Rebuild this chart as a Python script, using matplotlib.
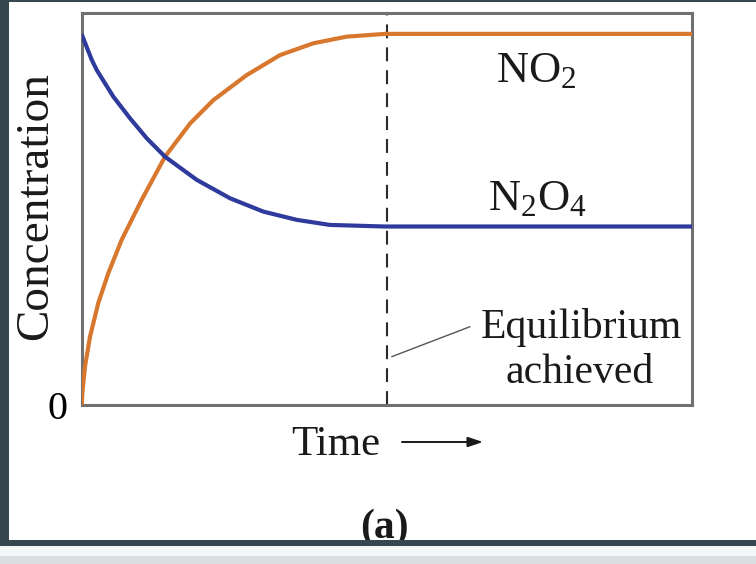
import matplotlib
matplotlib.use("Agg")
import matplotlib.pyplot as plt
from matplotlib.patches import Rectangle

plt.rcParams['font.family'] = ['Liberation Serif', 'DejaVu Serif']
plt.rcParams['mathtext.default'] = 'regular'
plt.rcParams['lines.scale_dashes'] = False

# curves (time in arbitrary units 0..10, concentration 0..1)
time_no2 = [0.0, 0.01, 0.054, 0.136, 0.272, 0.436, 0.655, 0.983, 1.365, 1.778,
            2.156, 2.704, 3.250, 3.795, 4.342, 4.97, 10.0]
conc_no2 = [0.0, 0.030, 0.098, 0.174, 0.260, 0.336, 0.421, 0.523, 0.633, 0.718,
            0.777, 0.841, 0.892, 0.922, 0.939, 0.946, 0.946]

time_n2o4 = [0.0, 0.164, 0.246, 0.518, 0.791, 1.065, 1.365, 1.884, 2.430, 2.976,
             3.523, 4.069, 4.97, 10.0]
conc_n2o4 = [0.945, 0.880, 0.854, 0.786, 0.731, 0.680, 0.633, 0.574, 0.527, 0.493,
             0.472, 0.459, 0.455, 0.455]

t_equilibrium = 5.0

W, H = 756, 564
ORANGE = '#d8782f'
BLUE = '#2e3a9c'
DARK = '#37474f'


def fx(x):
    return x / W


def fy(y):
    return 1 - y / H


fig = plt.figure(figsize=(W / 100, H / 100), dpi=100)
ax = fig.add_axes([fx(81.7), fy(405), (692 - 81.7) / W, (405 - 12.7) / H])

ax.plot(time_no2, conc_no2, color=ORANGE, lw=3.0, solid_capstyle='butt',
        solid_joinstyle='round', zorder=3)
ax.plot(time_n2o4, conc_n2o4, color=BLUE, lw=3.0, solid_capstyle='butt',
        solid_joinstyle='round', zorder=3)
ax.axvline(t_equilibrium, color='#2a2a2a', lw=1.5, dashes=[10, 6.5], zorder=2)

ax.set_xlim(0, 10)
ax.set_ylim(0, 1)
ax.set_xticks([])
ax.set_yticks([0])
ax.set_yticklabels(['0'], fontsize=29)
ax.tick_params(axis='y', length=0, pad=10)
for s in ax.spines.values():
    s.set_color('#707070')
    s.set_linewidth(2.2)

# labels
fig.text(fx(36), fy(206), 'Concentration', rotation=90, ha='center', va='center',
         fontsize=34, color='#1a1a1a')
fig.text(fx(336), fy(455), 'Time', ha='center', va='baseline', fontsize=31, color='#1a1a1a')
ax.annotate('', xy=(483, H - 442), xytext=(402, H - 442), xycoords='figure pixels',
            textcoords='figure pixels',
            arrowprops=dict(arrowstyle='-|>,head_length=0.9,head_width=0.3',
                            color='#1a1a1a', lw=1.4, shrinkA=0, shrinkB=0))
fig.text(fx(384), fy(538), '(a)', ha='center', va='baseline', fontsize=30,
         fontweight='bold', color='#1a1a1a')

fig.text(fx(536.5), fy(82), r'NO$_2$', ha='center', va='baseline', fontsize=32, color='#1a1a1a')
fig.text(fx(537), fy(210), r'N$_2$O$_4$', ha='center', va='baseline', fontsize=32, color='#1a1a1a')
fig.text(fx(581), fy(338), 'Equilibrium', ha='center', va='baseline', fontsize=30, color='#1a1a1a')
fig.text(fx(580), fy(383), 'achieved', ha='center', va='baseline', fontsize=30, color='#1a1a1a')
ax.annotate('', xy=(391.7, H - 356.7), xytext=(470, H - 326.7), xycoords='figure pixels',
            textcoords='figure pixels',
            arrowprops=dict(arrowstyle='-', color='#555555', lw=1.0, shrinkA=0, shrinkB=0))

# screenshot frame around the figure
for x0, y0, w, h, c in [(0, 0, 9, 546, DARK), (0, 0, W, 1.5, DARK),
                        (0, 540, W, 6, DARK), (0, 546, W, 10, '#f4f6f8'),
                        (0, 556, W, 8, '#dcdde0')]:
    fig.add_artist(Rectangle((fx(x0), fy(y0 + h)), w / W, h / H, transform=fig.transFigure,
                             facecolor=c, edgecolor='none', zorder=10))

fig.savefig('out.png', dpi=100)
